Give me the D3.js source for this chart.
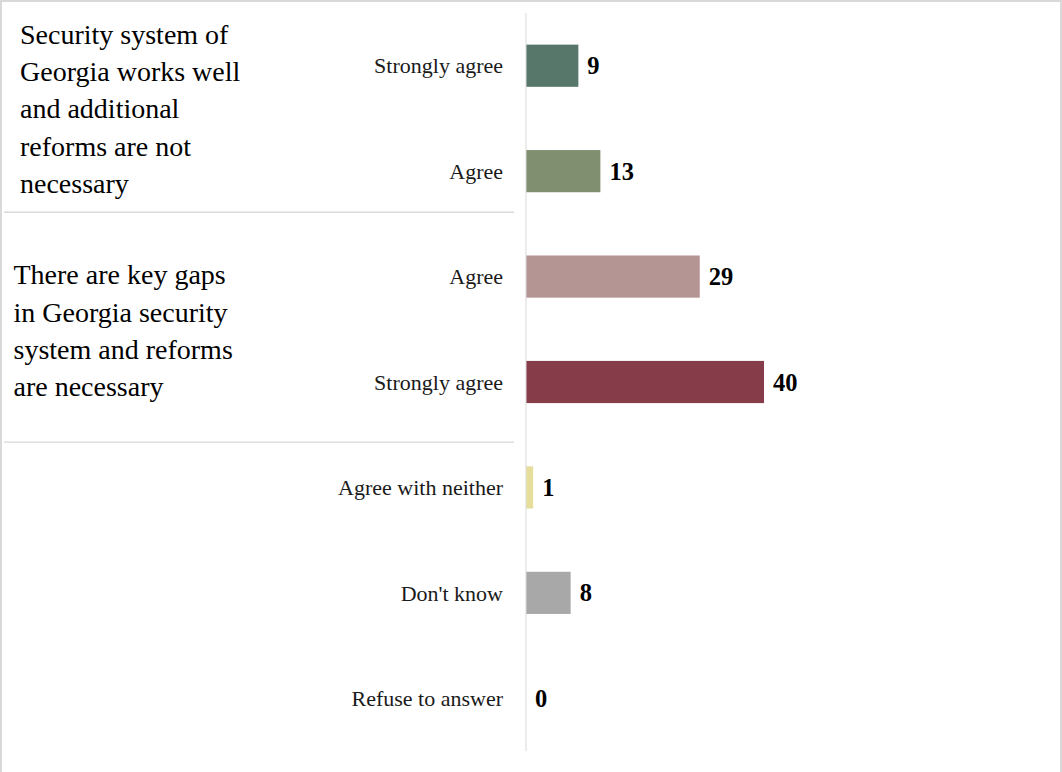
<!DOCTYPE html>
<html>
<head>
<meta charset="utf-8">
<script src="https://cdn.jsdelivr.net/npm/d3@7"></script>
<style>
  html, body { margin: 0; padding: 0; background: #fff; }
  svg { display: block; }
</style>
</head>
<body>
<svg id="chart" width="1062" height="772"></svg>
<script>
// ---- data ----
const categories = ["Strongly agree", "Agree", "Agree", "Strongly agree", "Agree with neither", "Don't know", "Refuse to answer"];
const values = [8.8, 12.5, 29.2, 40, 1.2, 7.5, 0];
const barColors = ["#57776A", "#7F8F6F", "#B59593", "#873D49", "#E6DE9A", "#A8A8A8", "#A8A8A8"];
const groupLabels = [
  ["Security system of", "Georgia works well", "and additional", "reforms are not", "necessary"],
  ["There are key gaps", "in Georgia security", "system and reforms", "are necessary"]
];
const groupRows = [[0, 1], [2, 3]];

// ---- layout ----
const svg = d3.select("#chart");
const serif = "'Liberation Serif', 'DejaVu Serif', serif";

// outer border
svg.append("rect").attr("x", 1).attr("y", 1).attr("width", 1060).attr("height", 790)
  .attr("fill", "none").attr("stroke", "#d9d9d9").attr("stroke-width", 2);

const axisX = 526;
const x = d3.scaleLinear().domain([0, 40]).range([axisX, axisX + 238]);
const y = d3.scaleBand().domain(d3.range(categories.length)).range([13, 751])
  .paddingInner(0.6).paddingOuter(0.3);

// bars
svg.append("g").selectAll("rect").data(values).join("rect")
  .attr("x", x(0))
  .attr("y", (d, i) => y(i))
  .attr("width", d => x(d) - x(0))
  .attr("height", y.bandwidth())
  .attr("fill", (d, i) => barColors[i]);

// axis line
svg.append("line").attr("x1", axisX).attr("x2", axisX).attr("y1", 13).attr("y2", 751)
  .attr("stroke", "#d9d9d9").attr("stroke-width", 1);

// category labels
svg.append("g").selectAll("text").data(categories).join("text")
  .attr("x", axisX - 23)
  .attr("y", (d, i) => y(i) + y.bandwidth() / 2)
  .attr("dy", "0.35em")
  .attr("text-anchor", "end")
  .attr("font-family", serif)
  .attr("font-size", 22)
  .attr("fill", "#1a1a1a")
  .text(d => d);

// value labels
svg.append("g").selectAll("text").data(values).join("text")
  .attr("x", d => x(d) + 9)
  .attr("y", (d, i) => y(i) + y.bandwidth() / 2)
  .attr("dy", "0.35em")
  .attr("font-family", serif)
  .attr("font-weight", "bold")
  .attr("font-size", 24.5)
  .attr("fill", "#000")
  .text(d => Math.round(d));

// group separators
const step = y.step();
const sepPos = [y(1) + y.bandwidth() + 0.19 * step, y(3) + y.bandwidth() + 0.37 * step];
svg.append("g").selectAll("line").data(sepPos).join("line")
  .attr("x1", 4).attr("x2", 514)
  .attr("y1", d => d).attr("y2", d => d)
  .attr("stroke", "#d9d9d9").attr("stroke-width", 1.3);

// group labels
const groupX = [20, 13.5];
const groupShift = [0, 11];
const lineH = 37.3;
groupLabels.forEach((lines, g) => {
  const rows = groupRows[g];
  const center = (y(rows[0]) + y(rows[rows.length - 1]) + y.bandwidth()) / 2;
  const firstBaseline = center - (lines.length - 1) / 2 * lineH + groupShift[g];
  const t = svg.append("text")
    .attr("font-family", serif)
    .attr("font-size", 28)
    .attr("fill", "#000");
  lines.forEach((ln, k) => {
    t.append("tspan").attr("x", groupX[g]).attr("y", firstBaseline + k * lineH).text(ln);
  });
});
</script>
</body>
</html>
